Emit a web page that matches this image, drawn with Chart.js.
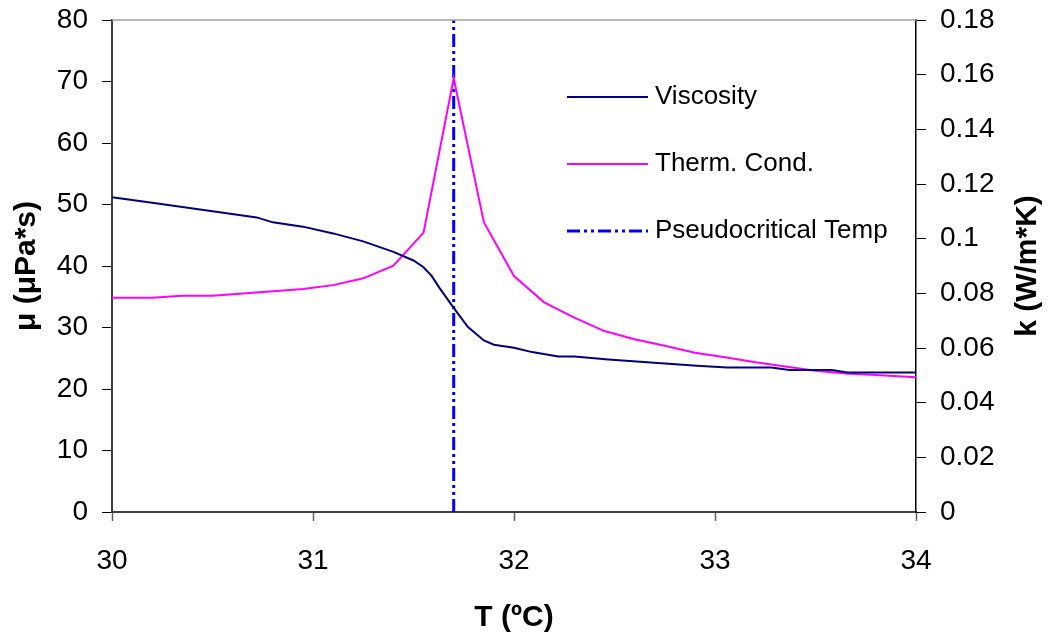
<!DOCTYPE html>
<html>
<head>
<meta charset="utf-8">
<script src="https://cdn.jsdelivr.net/npm/chart.js@4"></script>
<style>
  html, body { margin: 0; padding: 0; background: #fff; }
  #wrap { width: 1053px; height: 638px; }
</style>
</head>
<body>
<div id="wrap"><canvas id="chart"></canvas></div>
<script>
// viscosity (left axis, µPa*s)
const visT = [30, 30.2, 30.35, 30.5, 30.72, 30.8, 30.95, 31.1, 31.25, 31.4, 31.5, 31.55, 31.59, 31.63, 31.7, 31.77, 31.85, 31.9, 32.0, 32.09, 32.22, 32.3, 32.47, 32.68, 32.91, 33.06, 33.28, 33.37, 33.58, 33.66, 34.0];
const visMu = [51.2, 50.3, 49.6, 48.9, 47.9, 47.1, 46.4, 45.3, 44.0, 42.3, 40.9, 39.8, 38.4, 36.4, 33.2, 30.1, 27.9, 27.2, 26.7, 26.0, 25.3, 25.3, 24.8, 24.3, 23.8, 23.5, 23.5, 23.1, 23.1, 22.7, 22.7];

// thermal conductivity (right axis, W/m*K)
const condT = [30, 30.2, 30.35, 30.5, 30.95, 31.1, 31.25, 31.4, 31.55, 31.7, 31.85, 32.0, 32.15, 32.3, 32.45, 32.6, 32.75, 32.9, 33.05, 33.2, 33.35, 33.5, 33.65, 33.8, 34.0];
const condK = [0.0784, 0.0784, 0.0791, 0.0791, 0.0816, 0.0830, 0.0855, 0.0901, 0.1022, 0.1587, 0.1060, 0.0863, 0.0767, 0.0711, 0.0662, 0.0632, 0.0608, 0.0583, 0.0566, 0.0548, 0.0532, 0.0517, 0.0507, 0.0501, 0.0493];

// pseudocritical temperature marker
const pseudoT = 31.7;
const pseudoSpan = [0, 80];

const xTicks = ["30", "31", "32", "33", "34"];
const muTicks = ["0", "10", "20", "30", "40", "50", "60", "70", "80"];
const kTicks = ["0", "0.02", "0.04", "0.06", "0.08", "0.1", "0.12", "0.14", "0.16", "0.18"];

const FONT = "'Liberation Sans', Arial, sans-serif";
const dashPattern = [13, 4, 3, 4, 3, 4];

const viscosity = visT.map((t, i) => ({ x: t, y: visMu[i] }));
const conductivity = condT.map((t, i) => ({ x: t, y: condK[i] }));
const pseudo = pseudoSpan.map((v) => ({ x: pseudoT, y: v }));

// legend inside the plot + right axis title (reads bottom to top) + top frame line
const extras = {
  id: "extras",
  afterDraw(chart) {
    const ctx = chart.ctx;
    const area = chart.chartArea;
    ctx.save();

    ctx.strokeStyle = "#a0a0a0";
    ctx.lineWidth = 1.5;
    ctx.beginPath();
    ctx.moveTo(area.left, area.top);
    ctx.lineTo(area.right, area.top);
    ctx.stroke();

    const rows = [97, 164, 231];
    chart.data.datasets.forEach((ds, i) => {
      const y = rows[i];
      ctx.strokeStyle = ds.borderColor;
      ctx.lineWidth = ds.borderWidth;
      ctx.setLineDash(ds.borderDash || []);
      ctx.beginPath();
      ctx.moveTo(567, y);
      ctx.lineTo(648, y);
      ctx.stroke();
      ctx.setLineDash([]);
      ctx.fillStyle = "#000";
      ctx.font = "26px " + FONT;
      ctx.textAlign = "left";
      ctx.textBaseline = "middle";
      ctx.fillText(ds.label, 655, y);
    });

    ctx.translate(1028, (area.top + area.bottom) / 2);
    ctx.rotate(-Math.PI / 2);
    ctx.font = "bold 30px " + FONT;
    ctx.textAlign = "center";
    ctx.textBaseline = "middle";
    ctx.fillStyle = "#000";
    ctx.fillText("k (W/m*K)", 0, 0);
    ctx.restore();
  },
};

const fitY = (w) => (scale) => {
  scale.width = w;
  scale.paddingTop = 0;
  scale.paddingBottom = 0;
};

const config = {
  type: "line",
  data: {
    datasets: [
      {
        label: "Viscosity",
        data: viscosity,
        borderColor: "#000080",
        borderWidth: 2,
        pointRadius: 0,
        yAxisID: "y",
      },
      {
        label: "Therm. Cond.",
        data: conductivity,
        borderColor: "#ff00ff",
        borderWidth: 2,
        pointRadius: 0,
        yAxisID: "y1",
      },
      {
        label: "Pseudocritical Temp",
        data: pseudo,
        borderColor: "#0000ff",
        borderWidth: 3,
        borderDash: dashPattern,
        pointRadius: 0,
        yAxisID: "y",
      },
    ],
  },
  options: {
    responsive: true,
    maintainAspectRatio: false,
    animation: false,
    layout: { padding: { top: 20, left: 0, right: 0, bottom: 0 } },
    plugins: { legend: { display: false }, tooltip: { enabled: false } },
    scales: {
      x: {
        type: "linear",
        min: 30,
        max: 34,
        ticks: {
          stepSize: 1,
          color: "#000",
          font: { family: FONT, size: 28 },
          padding: 23,
          maxRotation: 0,
          callback: (v, i) => xTicks[i],
        },
        grid: { drawOnChartArea: false, tickLength: 9, tickColor: "#606060", tickWidth: 1.5 },
        border: { color: "#404040", width: 2 },
        title: { display: true, text: "T (ºC)", color: "#000", font: { family: FONT, size: 30, weight: "bold" }, padding: { top: 0, bottom: 2 } },
        afterFit: (scale) => { scale.height = 126; },
      },
      y: {
        position: "left",
        min: 0,
        max: 80,
        ticks: {
          stepSize: 10,
          color: "#000",
          font: { family: FONT, size: 28 },
          padding: 14,
          callback: (v, i) => muTicks[i],
        },
        grid: { drawOnChartArea: false, tickLength: 10, tickColor: "#000", tickWidth: 1 },
        border: { color: "#404040", width: 2 },
        title: { display: true, text: "μ (μPa*s)", color: "#000", font: { family: FONT, size: 30, weight: "bold" }, padding: { top: 9, bottom: 0 } },
        afterFit: fitY(112),
      },
      y1: {
        position: "right",
        min: 0,
        max: 0.18,
        ticks: {
          stepSize: 0.02,
          color: "#000",
          font: { family: FONT, size: 28 },
          padding: 14,
          callback: (v, i) => kTicks[i],
        },
        grid: { drawOnChartArea: false, tickLength: 10, tickColor: "#000", tickWidth: 1 },
        border: { color: "#000", width: 1.5 },
        afterFit: fitY(137),
      },
    },
  },
  plugins: [extras],
};

const myChart = document.getElementById("chart");
new Chart(myChart, config);
</script>
</body>
</html>
